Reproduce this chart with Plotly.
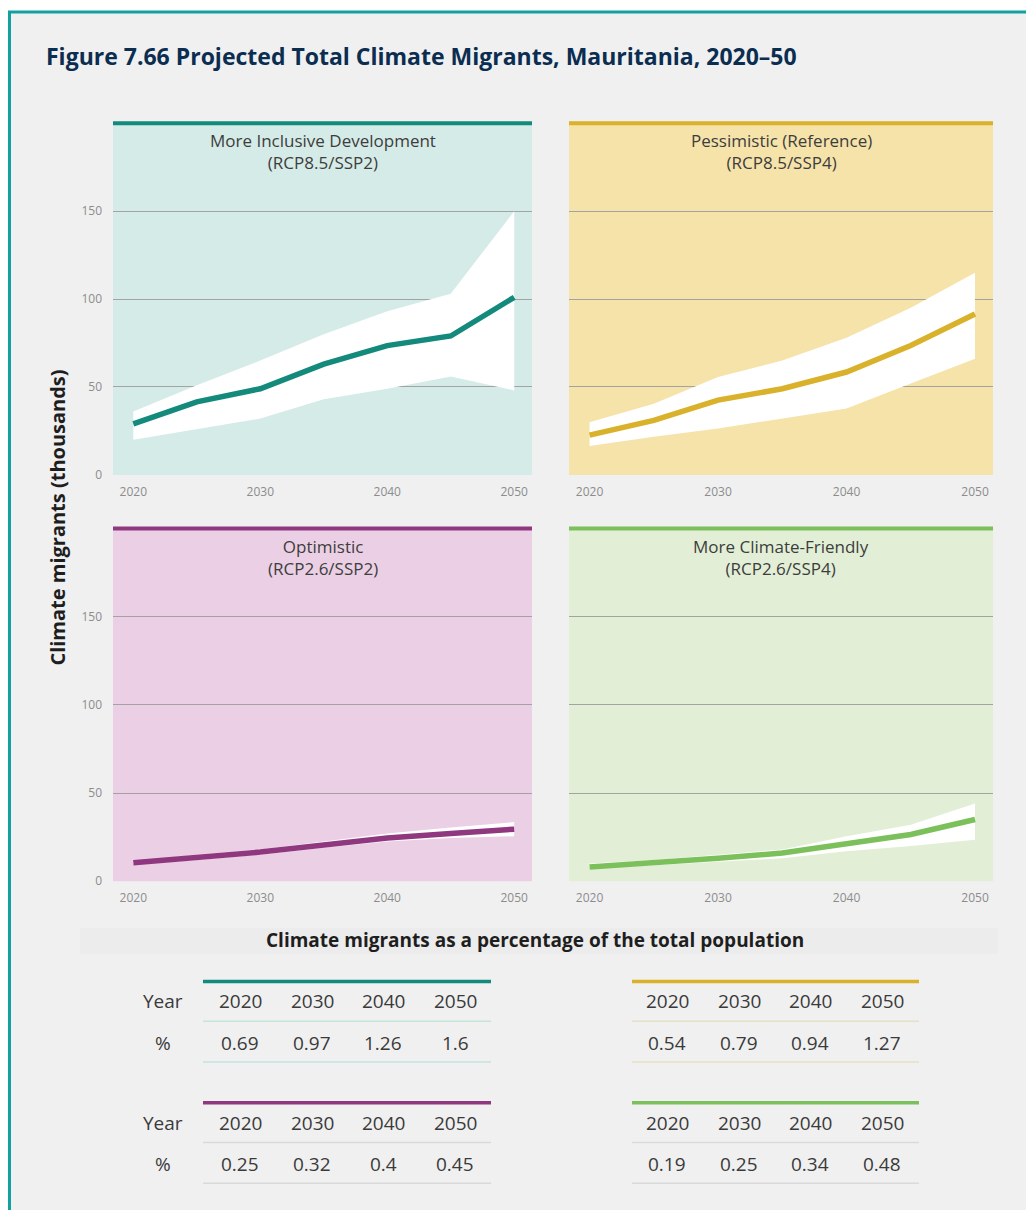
import plotly.graph_objects as go

# ---------------- data ----------------
years = [2020, 2025, 2030, 2035, 2040, 2045, 2050]

incl_mid = [29, 41.5, 49, 63, 73.5, 79, 101]
incl_hi = [36, 51, 65, 80, 93, 103, 150]
incl_lo = [20, 26, 32, 43, 49, 56, 48]

pess_mid = [22.6, 31, 42.5, 49, 58.5, 73.6, 91.5]
pess_hi = [30, 40.5, 55.7, 65, 78, 95, 115]
pess_lo = [16.4, 21.7, 26.4, 32, 37.7, 52, 66]

opt_mid = [10.4, 13.5, 16.5, 20.5, 24.5, 27, 29.5]
opt_hi = [11.5, 15, 18, 22.5, 27, 30.5, 33.5]
opt_lo = [9.5, 12, 15, 19, 22.5, 24.5, 25.5]

cf_mid = [8, 10.4, 13, 16, 21.5, 26.5, 35]
cf_hi = [10, 12, 15, 18, 25.5, 32, 44]
cf_lo = [7, 9, 11, 13, 17, 20, 23.5]

panel_titles = [
    "More Inclusive Development<br>(RCP8.5/SSP2)",
    "Pessimistic (Reference)<br>(RCP8.5/SSP4)",
    "Optimistic<br>(RCP2.6/SSP2)",
    "More Climate-Friendly<br>(RCP2.6/SSP4)",
]

y_ticks = [0, 50, 100, 150]
x_ticks = [2020, 2030, 2040, 2050]

table_years = ["2020", "2030", "2040", "2050"]
pct_incl = ["0.69", "0.97", "1.26", "1.6"]
pct_pess = ["0.54", "0.79", "0.94", "1.27"]
pct_opt = ["0.25", "0.32", "0.4", "0.45"]
pct_cf = ["0.19", "0.25", "0.34", "0.48"]

# ---------------- styling ----------------
OFF = 8                      # default page body margin
W, H = 1034 - OFF, 1218 - OFF
fx = lambda px: (px - OFF) / W
fy = lambda py: 1 - (py - OFF) / H

line_cols = ["#138a7c", "#d9b12a", "#8f3880", "#7cc05c"]
bg_cols = ["#d5ebe7", "#f6e3aa", "#ebd0e5", "#e2efd6"]
sep_cols = ["#c4e4de", "#e6e0c6", "#d9d9d9", "#dadada"]

panels = [
    dict(mid=incl_mid, hi=incl_hi, lo=incl_lo, x=(113, 532), y=(124, 478)),
    dict(mid=pess_mid, hi=pess_hi, lo=pess_lo, x=(569, 993), y=(124, 478)),
    dict(mid=opt_mid, hi=opt_hi, lo=opt_lo, x=(113, 532), y=(532, 887)),
    dict(mid=cf_mid, hi=cf_hi, lo=cf_lo, x=(569, 993), y=(532, 887)),
]

fig = go.Figure()
shapes = []
annotations = []

# page frame
shapes.append(dict(type="rect", xref="paper", yref="paper", x0=0, x1=1.0, y0=0, y1=fy(12),
                   fillcolor="#f0f0f0", line=dict(width=0), layer="below"))
shapes.append(dict(type="line", xref="paper", yref="paper", x0=0, x1=1.0, y0=fy(12), y1=fy(12),
                   line=dict(color="#12a19f", width=3), layer="above"))
shapes.append(dict(type="line", xref="paper", yref="paper", x0=fx(9.5), x1=fx(9.5), y0=0, y1=fy(12),
                   line=dict(color="#12a19f", width=3), layer="above"))
# faint band behind the table heading
shapes.append(dict(type="rect", xref="paper", yref="paper", x0=fx(80), x1=fx(998), y0=fy(960), y1=fy(934),
                   fillcolor="#ececec", line=dict(width=0), layer="below"))

tick_font = dict(size=12, color="#8c8c8c", family="Open Sans")
layout_axes = {}
for i, p in enumerate(panels):
    n = i + 1
    xa = "x" if n == 1 else f"x{n}"
    ya = "y" if n == 1 else f"y{n}"
    xk = "xaxis" if n == 1 else f"xaxis{n}"
    yk = "yaxis" if n == 1 else f"yaxis{n}"

    fig.add_trace(go.Scatter(x=years, y=p["lo"], xaxis=xa, yaxis=ya, mode="lines",
                             line=dict(width=0, color="white"), showlegend=False, hoverinfo="skip"))
    fig.add_trace(go.Scatter(x=years, y=p["hi"], xaxis=xa, yaxis=ya, mode="lines",
                             line=dict(width=0, color="white"), fill="tonexty", fillcolor="white",
                             showlegend=False, hoverinfo="skip"))
    fig.add_trace(go.Scatter(x=years, y=p["mid"], xaxis=xa, yaxis=ya, mode="lines",
                             line=dict(width=5.5, color=line_cols[i]), showlegend=False))

    layout_axes[xk] = dict(domain=[fx(p["x"][0]), fx(p["x"][1])], range=[2018.4, 2051.4],
                           tickvals=x_ticks, showgrid=False, zeroline=False, showline=False,
                           ticks="", tickfont=tick_font, ticklabelstandoff=8, anchor=ya,
                           fixedrange=True)
    layout_axes[yk] = dict(domain=[fy(p["y"][1]), fy(p["y"][0])], range=[0, 200],
                           tickvals=y_ticks, showgrid=True, gridcolor="#a3a3a3", gridwidth=1,
                           zeroline=False, showline=False, ticks="",
                           showticklabels=(i % 2 == 0), tickfont=tick_font,
                           ticklabelstandoff=10, anchor=xa, fixedrange=True)

    # panel background
    shapes.append(dict(type="rect", xref=f"{xa} domain", yref=f"{ya} domain", x0=0, x1=1, y0=0, y1=1,
                       fillcolor=bg_cols[i], line=dict(width=0), layer="below"))
    # coloured top rule
    shapes.append(dict(type="line", xref=f"{xa} domain", yref=f"{ya} domain", x0=0, x1=1, y0=1, y1=1,
                       line=dict(color=line_cols[i], width=4), layer="above"))
    # panel title
    annotations.append(dict(text=panel_titles[i], xref="paper", yref="paper",
                            x=(fx(p["x"][0]) + fx(p["x"][1])) / 2, y=fy(p["y"][0] + 4),
                            xanchor="center", yanchor="top", showarrow=False, align="center",
                            font=dict(family="Open Sans", size=17, color="#3d3d3d")))

# main title
annotations.append(dict(text="<b>Figure 7.66 Projected Total Climate Migrants, Mauritania, 2020–50</b>",
                        xref="paper", yref="paper", x=fx(44), y=fy(56), xanchor="left", yanchor="middle",
                        showarrow=False,
                        font=dict(family="Open Sans", size=23, color="#0b2d50")))
# y-axis title
annotations.append(dict(text="<b>Climate migrants (thousands)</b>", xref="paper", yref="paper",
                        x=fx(58), y=fy(521), xanchor="center", yanchor="middle", textangle=-90,
                        showarrow=False, font=dict(family="Open Sans", size=20, color="#1e1e1e")))
# table heading
annotations.append(dict(text="<b>Climate migrants as a percentage of the total population</b>",
                        xref="paper", yref="paper", x=fx(535), y=fy(946), xanchor="center",
                        yanchor="middle", showarrow=False,
                        font=dict(family="Open Sans", size=19, color="#1e1e1e")))

# ---------------- tables ----------------
tables = [
    dict(vals=pct_incl, x=(203, 491), cols=[240, 312, 383, 455], top=988, labels=True, c=0),
    dict(vals=pct_pess, x=(632, 919), cols=[667, 739, 810, 882], top=988, labels=False, c=1),
    dict(vals=pct_opt, x=(203, 491), cols=[240, 312, 383, 455], top=1110, labels=True, c=2),
    dict(vals=pct_cf, x=(632, 919), cols=[667, 739, 810, 882], top=1110, labels=False, c=3),
]
tfont = dict(family="Open Sans", size=19, color="#3a3a3a")
for t in tables:
    top = t["top"]
    shapes.append(dict(type="line", xref="paper", yref="paper", x0=fx(t["x"][0]), x1=fx(t["x"][1]),
                       y0=fy(top), y1=fy(top), line=dict(color=line_cols[t["c"]], width=3.5)))
    for off in (40, 81):
        shapes.append(dict(type="line", xref="paper", yref="paper", x0=fx(t["x"][0]), x1=fx(t["x"][1]),
                           y0=fy(top + off), y1=fy(top + off),
                           line=dict(color=sep_cols[t["c"]], width=1.5)))
    for cx, yr, v in zip(t["cols"], table_years, t["vals"]):
        annotations.append(dict(text=yr, xref="paper", yref="paper", x=fx(cx), y=fy(top + 20),
                                xanchor="center", yanchor="middle", showarrow=False, font=tfont))
        annotations.append(dict(text=v, xref="paper", yref="paper", x=fx(cx), y=fy(top + 62),
                                xanchor="center", yanchor="middle", showarrow=False, font=tfont))
    if t["labels"]:
        annotations.append(dict(text="Year", xref="paper", yref="paper", x=fx(163), y=fy(top + 20),
                                xanchor="center", yanchor="middle", showarrow=False, font=tfont))
        annotations.append(dict(text="%", xref="paper", yref="paper", x=fx(163), y=fy(top + 62),
                                xanchor="center", yanchor="middle", showarrow=False, font=tfont))

fig.update_layout(
    width=W, height=H,
    margin=dict(l=0, r=0, t=0, b=0),
    paper_bgcolor="white",
    plot_bgcolor="rgba(0,0,0,0)",
    showlegend=False,
    shapes=shapes,
    annotations=annotations,
    **layout_axes,
)

fig.write_html("out.html")
